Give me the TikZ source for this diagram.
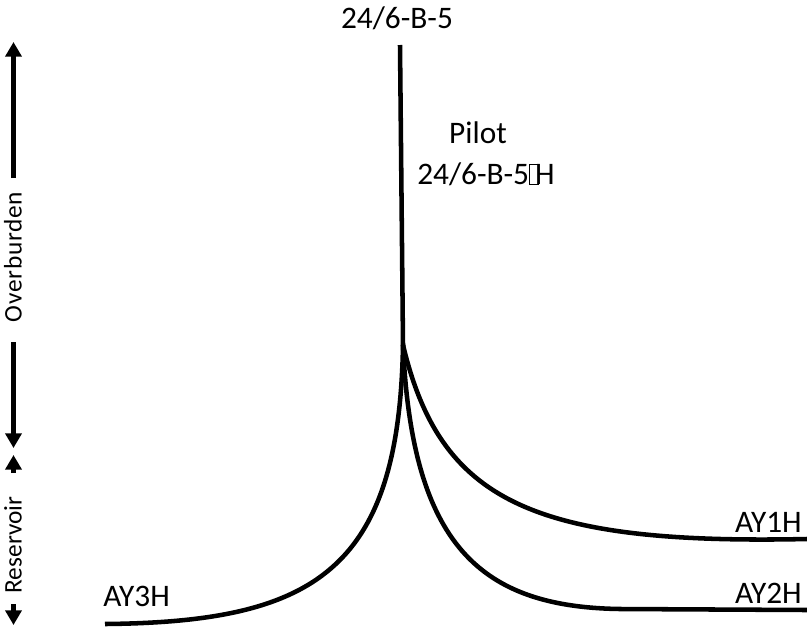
\documentclass[tikz,border=0pt]{standalone}
\usepackage{fontspec}
\setmainfont{Carlito}
\usetikzlibrary{arrows.meta}
\newcommand\missbox{{\setlength\fboxsep{0pt}\setlength\fboxrule{0.6pt}\fbox{\rule{0pt}{0.62em}\hspace{0.26em}}}\kern-0.12em}
\tikzset{
  well/.style={line width=3.4pt, line cap=butt},
  scalearrow/.style={line width=3.3pt, -{Triangle[width=12pt,length=11pt]}},
  lbl/.style={font=\fontsize{23.5}{26}\selectfont, inner sep=0pt},
  sidelbl/.style={font=\fontsize{19}{22}\selectfont, inner sep=0pt, rotate=90}
}
\begin{document}
\begin{tikzpicture}[x=0.75pt,y=-0.75pt]
\useasboundingbox (0,0) rectangle (807,629);
% well trajectory points
\coordinate (top) at (400,45);
\coordinate (kick) at (403,345);
\coordinate (e1) at (807,539);
\coordinate (e2a) at (620,609);
\coordinate (e2) at (807,610);
\coordinate (e3) at (105,624);
% wells
\draw[well] (top) -- (kick);
\draw[well] (kick) .. controls (440,500) and (530,545) .. (e1);
\draw[well] (kick) .. controls (412,545) and (480,607) .. (e2a) -- (e2);
\draw[well] (kick) .. controls (399,570) and (315,622) .. (e3);
% labels
\node[lbl] (ltop) at (397,18) {24/6-B-5};
\node[lbl] (lpilot) at (478,133) {Pilot};
\node[lbl, anchor=west] (lpilot2) at (417,174) {24/6-B-5\missbox H};
\node[lbl, anchor=east] (l1) at (802,522) {AY1H};
\node[lbl, anchor=east] (l2) at (802,593) {AY2H};
\node[lbl, anchor=west] (l3) at (103,596) {AY3H};
% side scale
\node[sidelbl] (ob) at (13,257) {O\kern0.5pt v\kern0.5pt e\kern0.5pt r\kern0.5pt b\kern0.5pt u\kern0.5pt r\kern0.5pt d\kern0.5pt e\kern0.5pt n};
\node[sidelbl] (res) at (13,545) {Reservoir};
\coordinate (a1s) at (13.5,178);
\coordinate (a1e) at (13.5,42);
\coordinate (a2s) at (13.5,342);
\coordinate (a2e) at (13.5,448);
\coordinate (a3s) at (13.5,473);
\coordinate (a3e) at (13.5,455);
\coordinate (a4s) at (13.5,604);
\coordinate (a4e) at (13.5,625);
\draw[scalearrow] (a1s) -- (a1e);
\draw[scalearrow] (a2s) -- (a2e);
\draw[scalearrow] (a3s) -- (a3e);
\draw[scalearrow] (a4s) -- (a4e);
\end{tikzpicture}
\end{document}
